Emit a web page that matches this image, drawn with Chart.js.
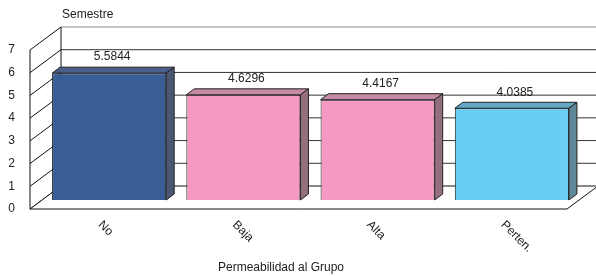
<!DOCTYPE html>
<html>
<head>
<meta charset="utf-8">
<script src="https://cdn.jsdelivr.net/npm/chart.js@4/dist/chart.umd.min.js"></script>
<style>
html,body{margin:0;padding:0;background:#fff;}
canvas{display:block;}
</style>
</head>
<body>
<canvas id="c" width="596" height="276"></canvas>
<script>
const categories = ['No', 'Baja', 'Alta', 'Perten.'];
const values = [5.5844, 4.6296, 4.4167, 4.0385];
const valueLabels = ['5.5844', '4.6296', '4.4167', '4.0385'];
const yTickValues = [0, 1, 2, 3, 4, 5, 6, 7];
const frontColors = ['#3b5d96', '#f49ac2', '#f49ac2', '#69cdf5'];
const topColors = ['#4a5e8a', '#c48aa6', '#c48aa6', '#62a9c8'];
const sideColors = ['#4b5673', '#94707f', '#94707f', '#5e8797'];
const axisTitle = 'Permeabilidad al Grupo';
const valueAxisTitle = 'Semestre';

const FONT = 'Arial, "Liberation Sans", sans-serif';
const FRONT = {dx: -12, dy: 9};
const BACK = {dx: 19, dy: -14};
const DEPTH = {dx: 8, dy: -6};

const box3d = {
  id: 'box3d',
  beforeDatasetsDraw(chart) {
    const ctx = chart.ctx, xs = chart.scales.x, ys = chart.scales.y, ca = chart.chartArea;
    const fl = ca.left + FRONT.dx, bl = ca.left + BACK.dx;
    const fr = ca.right + FRONT.dx, br = ca.right + BACK.dx;
    const yF = v => ys.getPixelForValue(v) + FRONT.dy;
    const yB = v => ys.getPixelForValue(v) + BACK.dy;
    const vmax = yTickValues[yTickValues.length - 1];
    ctx.save();
    ctx.lineWidth = 1;
    // back wall gridlines
    ctx.strokeStyle = '#333';
    yTickValues.forEach(v => {
      if (v === 0) return;
      ctx.strokeStyle = v === vmax ? '#888' : '#333';
      ctx.beginPath(); ctx.moveTo(bl, yB(v)); ctx.lineTo(br, yB(v)); ctx.stroke();
    });
    ctx.strokeStyle = '#111';
    // left wall
    ctx.beginPath();
    ctx.moveTo(fl, yF(0)); ctx.lineTo(fl, yF(vmax));
    ctx.moveTo(bl, yB(0)); ctx.lineTo(bl, yB(vmax));
    yTickValues.forEach(v => { ctx.moveTo(fl, yF(v)); ctx.lineTo(bl, yB(v)); });
    ctx.stroke();
    // floor
    ctx.beginPath();
    ctx.moveTo(fl, yF(0)); ctx.lineTo(fr, yF(0)); ctx.lineTo(br, yB(0)); ctx.lineTo(bl, yB(0));
    ctx.closePath();
    ctx.fillStyle = '#fff'; ctx.fill(); ctx.stroke();
    // texts
    ctx.fillStyle = '#222';
    ctx.font = '12px ' + FONT;
    ctx.textAlign = 'left'; ctx.textBaseline = 'middle';
    ctx.fillText(valueAxisTitle, bl + 1, 15);
    categories.forEach((c, i) => {
      const px = xs.getPixelForValue(i) + FRONT.dx + 3;
      ctx.save();
      ctx.translate(px, yF(0) + 14);
      ctx.rotate(Math.PI / 4);
      ctx.fillText(c, 0, 0);
      ctx.restore();
    });
    ctx.textAlign = 'center';
    ctx.fillText(axisTitle, 281, 268);
    ctx.restore();
  },
  afterDatasetsDraw(chart) {
    const ctx = chart.ctx;
    const meta = chart.getDatasetMeta(0);
    ctx.save();
    ctx.lineWidth = 1;
    ctx.strokeStyle = '#222';
    meta.data.forEach((bar, i) => {
      const p = bar.getProps(['x', 'y', 'base', 'width'], true);
      const l = p.x - p.width / 2, r = p.x + p.width / 2, t = p.y, b = p.base;
      ctx.beginPath();
      ctx.moveTo(l, t); ctx.lineTo(l + DEPTH.dx, t + DEPTH.dy); ctx.lineTo(r + DEPTH.dx, t + DEPTH.dy); ctx.lineTo(r, t); ctx.closePath();
      ctx.fillStyle = topColors[i]; ctx.fill(); ctx.stroke();
      ctx.beginPath();
      ctx.moveTo(r, t); ctx.lineTo(r + DEPTH.dx, t + DEPTH.dy); ctx.lineTo(r + DEPTH.dx, b + DEPTH.dy); ctx.lineTo(r, b); ctx.closePath();
      ctx.fillStyle = sideColors[i]; ctx.fill(); ctx.stroke();
      ctx.fillStyle = '#222';
      ctx.font = '12px ' + FONT;
      ctx.textAlign = 'center'; ctx.textBaseline = 'middle';
      ctx.fillText(valueLabels[i], p.x + 3, t - 16);
    });
    ctx.restore();
  }
};

new Chart(document.getElementById('c'), {
  type: 'bar',
  data: {
    labels: categories,
    datasets: [{
      data: values,
      backgroundColor: frontColors,
      borderColor: '#222',
      borderWidth: 1,
      categoryPercentage: 1,
      barPercentage: 0.85
    }]
  },
  options: {
    responsive: false,
    animation: false,
    events: [],
    layout: {padding: {left: 0, right: 17, top: 41, bottom: 76}},
    plugins: {legend: {display: false}, tooltip: {enabled: false}},
    scales: {
      x: {display: false},
      y: {
        min: 0, max: 7,
        position: 'left',
        grid: {display: false, drawTicks: false},
        border: {display: false},
        afterFit(scale) { scale.width = 42; },
        ticks: {
          stepSize: 1,
          padding: 27,
          labelOffset: 9,
          color: '#222',
          font: {family: FONT, size: 12}
        }
      }
    }
  },
  plugins: [box3d]
});
</script>
</body>
</html>
